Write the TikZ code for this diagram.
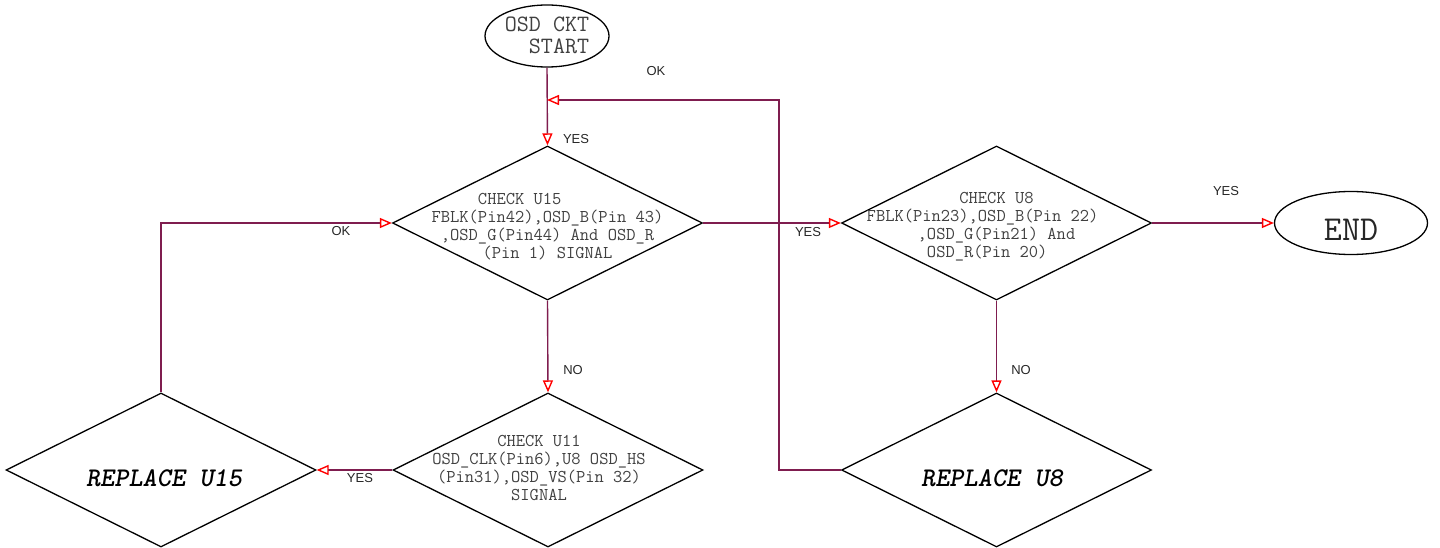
\documentclass[tikz,border=0pt]{standalone}
\usepackage{fontspec}
\setmainfont{Liberation Sans}
\usepackage{xcolor}
\usepackage{tikz}
\usetikzlibrary{arrows.meta,shapes.geometric,positioning}
\definecolor{osdWire}{HTML}{7F1D4F}
\definecolor{osdTip}{HTML}{FF0000}
\definecolor{osdText}{HTML}{404040}
\tikzset{
  osdCheck/.style={
    draw=black,
    shape=diamond,
    line width=1.3pt,
    inner sep=0pt,
    minimum width=310pt,
    minimum height=154pt
  },
  osdTerm/.style={
    draw=black,
    shape=ellipse,
    line width=1.3pt,
    inner sep=0pt
  },
  osdCheckText/.style={
    font=\fontsize{18}{18}\selectfont\ttfamily,
    text=osdText,
    align=center,
    inner sep=0pt
  },
  osdReplaceText/.style={
    font=\fontsize{27}{30}\selectfont\ttfamily\bfseries\itshape,
    text=black,
    inner sep=0pt
  },
  osdArrow/.style={
    -{Triangle[open,color=osdTip,length=12pt,width=10pt]},
    draw=osdWire,
    line width=1.4pt
  },
  osdLabel/.style={
    font=\fontsize{13}{15}\selectfont,
    text=black!85,
    inner sep=0pt
  }
}

\begin{document}
\begin{tikzpicture}[x=1pt, y=-1pt]
\useasboundingbox (0,0) rectangle (1440,548);

% terminals
\node[osdTerm, minimum width=124pt, minimum height=62pt] (start) at (547,36) {};
\node[osdCheckText, font=\fontsize{23.4}{22}\selectfont\ttfamily, align=left]
  (startText) at (547,35) {OSD CKT\\~~START};
\node[osdTerm, minimum width=153pt, minimum height=63pt] (end) at (1351,223) {};
\node[osdCheckText, font=\fontsize{35}{36}\selectfont\ttfamily, text=black!85]
  (endText) at (1351,230) {END};

% checks
\node[osdCheck] (u15) at (547.5,223) {};
\node[osdCheckText] (u15Text) at (547.5,227)
  {CHECK U15\phantom{XXXXXX}\\
   FBLK(Pin42),OSD\_B(Pin 43)\\
   ,OSD\_G(Pin44) And OSD\_R~\\
   (Pin 1) SIGNAL};
\node[osdCheck] (u8) at (996.5,223) {};
\node[osdCheckText] (u8Text) at (996.5,227)
  {CHECK U8\\
   FBLK(Pin23),OSD\_B(Pin 22)\phantom{XXX}\\
   ,OSD\_G(Pin21) And\\
   OSD\_R(Pin 20)\phantom{XX}};
\node[osdCheck] (u11) at (548,470) {};
\node[osdCheckText] (u11Text) at (539,468)
  {CHECK U11\\
   OSD\_CLK(Pin6),U8 OSD\_HS\\
   (Pin31),OSD\_VS(Pin 32)\\
   SIGNAL};

% replace boxes
\node[osdCheck] (rep15) at (161,470) {};
\node[osdReplaceText] (rep15Text) at (164,478) {REPLACE U15};
\node[osdCheck] (rep8) at (996.5,470) {};
\node[osdReplaceText] (rep8Text) at (992,478) {REPLACE U8};

\coordinate (join) at (547,100);

% connectors
\draw[osdArrow] (start.south) -- (u15.north);
\draw[osdArrow] (u15.east) -- (u8.west);
\draw[osdArrow] (u8.east) -- (end.west);
\draw[osdArrow] (u15.south) -- (u11.north);
\draw[osdArrow] (u8.south) -- (rep8.north);
\draw[osdArrow] (u11.west) -- (rep15.east);
\draw[osdArrow] (rep15.north) |- (u15.west);
\draw[osdArrow] (rep8.west) -- ++(-62,0) |- (join);

% labels
\node[osdLabel] (okTop) at (656,71) {OK};
\node[osdLabel] (yesStart) at (576,139) {YES};
\node[osdLabel] (yesU15) at (808,232) {YES};
\node[osdLabel] (yesU8) at (1226,191) {YES};
\node[osdLabel] (noU15) at (573,370) {NO};
\node[osdLabel] (noU8) at (1021,370) {NO};
\node[osdLabel] (yesU11) at (360,478) {YES};
\node[osdLabel] (okLeft) at (341,231) {OK};
\end{tikzpicture}
\end{document}
